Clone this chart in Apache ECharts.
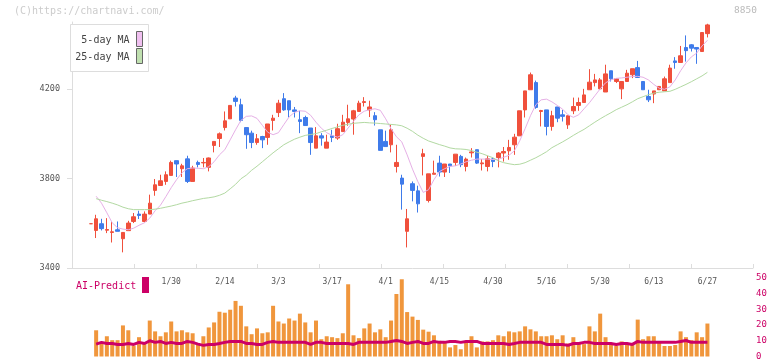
<!DOCTYPE html>
<html>
<head>
<meta charset="utf-8">
<script src="https://cdn.jsdelivr.net/npm/echarts@6/dist/echarts.min.js"></script>
<style>html,body{margin:0;padding:0;background:#fff;}#c{width:772px;height:361px;}</style>
</head>
<body>
<div id="c"></div>
<script>
// ---- data (2025 trading days) ----
const dates = ["1/8","1/9","1/10","1/14","1/15","1/16","1/17","1/20","1/21","1/22","1/23","1/24","1/27","1/28","1/29","1/30","1/31",
"2/3","2/4","2/5","2/6","2/7","2/10","2/12","2/13","2/14","2/17","2/18","2/19","2/20","2/21","2/25","2/26","2/27","2/28",
"3/3","3/4","3/5","3/6","3/7","3/10","3/11","3/12","3/13","3/14","3/17","3/18","3/19","3/21","3/24","3/25","3/26","3/27","3/28","3/31",
"4/1","4/2","4/3","4/4","4/7","4/8","4/9","4/10","4/11","4/14","4/15","4/16","4/17","4/18","4/21","4/22","4/23","4/24","4/25","4/28","4/30",
"5/1","5/2","5/7","5/8","5/9","5/12","5/13","5/14","5/15","5/16","5/19","5/20","5/21","5/22","5/23","5/26","5/27","5/28","5/29","5/30",
"6/2","6/3","6/4","6/5","6/6","6/9","6/10","6/11","6/12","6/13","6/16","6/17","6/18","6/19","6/20","6/23","6/24","6/25","6/26","6/27"];

const openP = [3598,3568,3598,3569,3559,3571,3531,3567,3608,3641,3608,3641,3747,3769,3787,3814,3880,3844,3888,3787,
3872,3870,3850,3948,3979,4028,4067,4160,4130,4028,4003,3961,3988,3984,4060,4095,4157,4148,4107,4063,
4073,4026,3936,3991,3936,3991,3981,4010,4051,4066,4100,4140,4107,4081,4018,3966,3951,3854,3802,3564,
3777,3745,3899,3702,3819,3869,3829,3865,3872,3899,3854,3915,3929,3866,3854,3888,3894,3914,3924,3951,
3991,4107,4197,4229,4100,4107,4033,4120,4085,4040,4103,4127,4140,4197,4229,4201,4187,4282,4234,4201,
4234,4264,4296,4234,4167,4178,4197,4192,4229,4326,4319,4386,4398,4386,4368,4448];
const closeP = [3598,3620,3576,3572,3562,3564,3559,3601,3629,3635,3641,3690,3772,3790,3817,3872,3865,3857,3787,3847,
3863,3872,3892,3966,4000,4058,4127,4145,4060,3996,3961,3978,3973,4044,4070,4137,4107,4107,4100,4055,
4037,3961,3991,3981,3963,3984,4023,4052,4067,4103,4137,4144,4120,4063,3926,3943,4018,3872,3775,3620,
3747,3687,3911,3821,3824,3829,3865,3857,3909,3862,3887,3919,3869,3870,3888,3876,3914,3921,3939,3985,
4103,4192,4264,4118,4104,4033,4081,4070,4078,4081,4122,4140,4174,4231,4241,4241,4268,4246,4246,4234,
4271,4291,4252,4197,4152,4192,4212,4246,4294,4319,4349,4372,4383,4379,4453,4487];
const lowP = [3598,3534,3568,3556,3514,3564,3470,3567,3601,3619,3604,3641,3723,3769,3772,3814,3807,3807,3780,3787,
3850,3850,3832,3917,3941,4015,4067,4122,4052,3933,3936,3951,3936,3951,4015,4075,4103,4073,4073,4003,
4037,3906,3936,3947,3936,3963,3973,4010,4036,3996,4100,4122,4075,4037,3926,3943,3917,3827,3661,3492,
3698,3648,3814,3693,3819,3809,3807,3825,3857,3851,3832,3894,3865,3836,3832,3851,3850,3876,3884,3906,
3991,4073,4197,4112,4033,3993,4014,4052,4055,4022,4088,4103,4140,4197,4212,4197,4187,4234,4227,4155,
4234,4249,4252,4197,4142,4137,4197,4192,4229,4291,4319,4323,4368,4313,4368,4431];
const highP = [3598,3638,3620,3623,3606,3608,3559,3611,3646,3656,3653,3728,3798,3817,3832,3880,3880,3866,3902,3857,
3880,3892,3894,3966,4006,4100,4127,4170,4157,4028,4014,3999,3991,4044,4085,4152,4182,4148,4120,4103,
4081,4026,4030,4003,3996,4018,4045,4085,4130,4107,4148,4164,4148,4097,4018,4014,4040,3951,3817,3664,
3787,3768,3933,3821,3880,3902,3865,3865,3909,3906,3894,3936,3929,3887,3902,3894,3918,3941,3973,4000,
4103,4192,4274,4238,4107,4107,4103,4120,4107,4081,4162,4162,4201,4289,4268,4249,4309,4282,4246,4234,
4286,4291,4326,4234,4197,4192,4212,4256,4309,4343,4393,4440,4401,4386,4453,4492];

const ma5 = [null,3721,3690,3647,3602,3580,3574,3571,3578,3591,3602,3623,3656,3681,3719,3759,3795,3826,3844,3847,
3846,3844,3853,3875,3906,3929,3973,4018,4060,4078,4080,4069,4038,4007,3996,4005,4041,4076,4096,4103,
4101,4083,4052,4025,4005,3993,3985,3996,4026,4056,4085,4101,4108,4112,4105,4067,4023,3987,3964,3906,
3842,3786,3738,3750,3795,3831,3844,3854,3857,3865,3875,3882,3887,3887,3887,3885,3886,3895,3904,3924,
3969,4023,4081,4130,4152,4155,4143,4127,4110,4085,4074,4085,4112,4139,4170,4201,4228,4241,4248,4250,
4253,4256,4257,4253,4241,4221,4204,4199,4210,4241,4282,4317,4344,4361,4393,4418];
const ma25 = [null,3710,3703,3697,3690,3682,3672,3665,3661,3661,3661,3661,3663,3667,3672,3677,3683,3690,3695,3701,
3706,3711,3714,3718,3725,3735,3754,3774,3799,3815,3837,3855,3875,3895,3915,3933,3951,3964,3976,3985,
3993,3997,4001,4009,4016,4024,4031,4038,4043,4047,4049,4051,4049,4048,4046,4044,4042,4040,4036,4025,
4011,3994,3980,3968,3960,3952,3945,3937,3933,3932,3930,3925,3918,3911,3902,3893,3879,3871,3866,3862,
3864,3871,3882,3893,3906,3920,3938,3951,3964,3978,3993,4007,4020,4036,4052,4067,4081,4094,4108,4119,
4130,4143,4157,4166,4175,4182,4186,4188,4190,4199,4210,4221,4233,4246,4259,4275];

const volume = [null,16.7,9,12.9,10.4,10.4,19.8,16.7,6.9,12.3,9,22.9,16,12.9,15.4,22.3,16,16.7,15.4,14.8,
7.5,12.9,18.5,21.7,28.5,27.9,29.8,35.4,32.3,19.2,14.2,17.9,14.8,15.4,32.3,22.3,21,24.2,22.9,27.3,
21.7,15.4,22.9,11,12.9,12.3,11.7,14.8,46,13.5,11.7,17.9,21,15.4,17.3,12.3,22.9,39.8,49.2,28.3,
25.4,23.3,17.1,15.8,13.5,10,9,5.8,7.3,4.6,9.6,12.9,5.8,9.6,9.6,10.4,13.5,12.9,16,15.4,
16,19.2,17.3,16,12.9,12.9,13.5,11,13.5,8.3,12.3,7.9,7.9,19.2,16,27.3,12.3,8.3,6.9,9.6,
8.3,8.3,23.5,11,12.9,12.9,9,6.7,6.7,7.3,16,12.3,10.4,15.4,12.3,21];
const aiPredict = [null,7.9,9,8.3,8.3,7.7,7.7,8.3,7.7,9,8.3,10,9,9.6,8.3,9,8.3,8.3,9.6,9,
7.9,7.1,7.7,7.7,8.3,9,9.6,9.6,9.6,8.3,8.3,7.7,7.7,9,9.6,9,9,9,9,9,
9,7.7,9,9,8.3,8.3,8.3,8.3,8.3,7.7,9,9,9,9,9,9,9.6,10.2,9.6,8.3,
9,9.6,8.3,8.3,9.6,9,9,9.6,9.6,9,9.6,9.6,9.6,8.3,8.3,8.3,8.3,8.3,7.7,8.3,
9,9,9,9,9,7.7,7.7,7.7,7.7,7.1,8.3,8.3,9,9,8.3,8.3,8.3,8.3,7.7,8.3,
8.3,7.7,9.6,9,9,9,9,9,9,9,9.6,10.2,9,9,9,9];

const tickLabels = ["1/30","2/14","3/3","3/17","4/1","4/15","4/30","5/16","5/30","6/13","6/27"];
const priceTicks = [3400, 3800, 4200];
const volTicks = [0, 10, 20, 30, 40, 50];

// ---- layout helpers ----
const PAD_L = 3, PAD_R = 8;
const cats = [];
for (let i = 0; i < PAD_L; i++) cats.push('pl' + i);
dates.forEach(d => cats.push(d));
for (let i = 0; i < PAD_R; i++) cats.push('pr' + i);

const candleData = dates.map((d, i) => [i + PAD_L, openP[i], closeP[i], lowP[i], highP[i]]);
const pts = arr => arr.map((v, i) => v == null ? null : [i + PAD_L, v]).filter(p => p);

const UP = '#f0503c', DOWN = '#3f7bea';
const FONT = '"DejaVu Sans Mono", monospace';
const AXIS = '#dddddd';

const chart = echarts.init(document.getElementById('c'), null, {renderer: 'canvas'});
chart.setOption({
  animation: false,
  backgroundColor: '#fff',
  grid: [
    {left: 72, right: 19, top: 22, bottom: 93},
    {left: 72, right: 19, top: 278, bottom: 3}
  ],
  xAxis: [
    {type: 'category', gridIndex: 0, data: cats, position: 'bottom', boundaryGap: true,
     axisLine: {show: false}, axisTick: {show: false}, splitLine: {show: false},
     axisLabel: {interval: (idx, val) => tickLabels.indexOf(val) >= 0, margin: 10,
       color: '#555', fontSize: 8, fontFamily: FONT}},
    {type: 'value', gridIndex: 0, min: 0, max: 11, interval: 1, position: 'bottom',
     axisLine: {show: true, lineStyle: {color: AXIS}},
     axisTick: {show: true, inside: true, length: 4, lineStyle: {color: AXIS}},
     axisLabel: {show: false}, splitLine: {show: false}},
    {type: 'category', gridIndex: 1, data: cats, boundaryGap: true, show: false}
  ],
  yAxis: [
    {type: 'value', gridIndex: 0, min: 3400, max: 4500, position: 'left', scale: true,
     axisLine: {show: true, lineStyle: {color: AXIS}},
     axisTick: {show: true, length: 5, lineStyle: {color: AXIS}, customValues: priceTicks},
     axisLabel: {customValues: priceTicks, margin: 12, color: '#555', fontSize: 8.5, fontFamily: FONT,
       formatter: v => String(v)},
     splitLine: {show: false}},
    {type: 'value', gridIndex: 1, min: 0, max: 50, interval: 10, position: 'right',
     axisLine: {show: false}, axisTick: {show: false}, splitLine: {show: false},
     axisLabel: {customValues: volTicks, margin: 3, color: '#cc0066', fontSize: 9, fontFamily: FONT,
       formatter: v => String(v)}}
  ],
  series: [
    {name: 'price', type: 'candlestick', xAxisIndex: 0, yAxisIndex: 0, barWidth: 4,
     encode: {x: 0, y: [1, 2, 3, 4]}, data: candleData,
     itemStyle: {color: UP, color0: DOWN, borderColor: UP, borderColor0: DOWN, borderWidth: 1}},
    {name: '5-day MA', type: 'line', xAxisIndex: 0, yAxisIndex: 0, data: pts(ma5), showSymbol: false,
     symbol: 'none', lineStyle: {color: '#e6b0e6', width: 1}, z: 4},
    {name: '25-day MA', type: 'line', xAxisIndex: 0, yAxisIndex: 0, data: pts(ma25), showSymbol: false,
     symbol: 'none', lineStyle: {color: '#b2d9a2', width: 1}, z: 4},
    {name: 'volume', type: 'bar', xAxisIndex: 2, yAxisIndex: 1, barWidth: 4, data: pts(volume),
     itemStyle: {color: '#f0963c'}},
    {name: 'AI-Predict', type: 'line', xAxisIndex: 2, yAxisIndex: 1, data: pts(aiPredict),
     symbol: 'none', lineStyle: {color: '#cc0066', width: 3}, z: 5}
  ],
  graphic: [
    {type: 'text', left: 14, top: 6, z: 10,
     style: {text: '(C)https://chartnavi.com/', font: '10px ' + FONT, fill: '#cccccc'}},
    {type: 'text', right: 15, top: 6, z: 10,
     style: {text: '8850', font: '9.5px ' + FONT, fill: '#bbbbbb'}},
    {type: 'rect', shape: {x: 70.5, y: 24.5, width: 78, height: 47}, z: 10,
     style: {fill: '#ffffff', stroke: '#dddddd', lineWidth: 1}},
    {type: 'rect', shape: {x: 136.5, y: 31.5, width: 6, height: 15}, z: 11,
     style: {fill: '#f0c0f0', stroke: '#666666', lineWidth: 1}},
    {type: 'rect', shape: {x: 136.5, y: 48.5, width: 6, height: 15}, z: 11,
     style: {fill: '#c0e0b0', stroke: '#666666', lineWidth: 1}},
    {type: 'text', z: 11, style: {text: '5-day MA', x: 129.5, y: 40, font: '10px ' + FONT, fill: '#444',
      align: 'right', textAlign: 'right', verticalAlign: 'middle', textVerticalAlign: 'middle'}},
    {type: 'text', z: 11, style: {text: '25-day MA', x: 129.5, y: 57, font: '10px ' + FONT, fill: '#444',
      align: 'right', textAlign: 'right', verticalAlign: 'middle', textVerticalAlign: 'middle'}},
    {type: 'text', z: 11, style: {text: 'AI-Predict', x: 76, y: 286, font: '10px ' + FONT, fill: '#cc0066',
      align: 'left', textAlign: 'left', verticalAlign: 'middle', textVerticalAlign: 'middle'}},
    {type: 'rect', shape: {x: 142, y: 277, width: 7, height: 16}, z: 11, style: {fill: '#cc0066'}}
  ]
});
</script>
</body>
</html>
